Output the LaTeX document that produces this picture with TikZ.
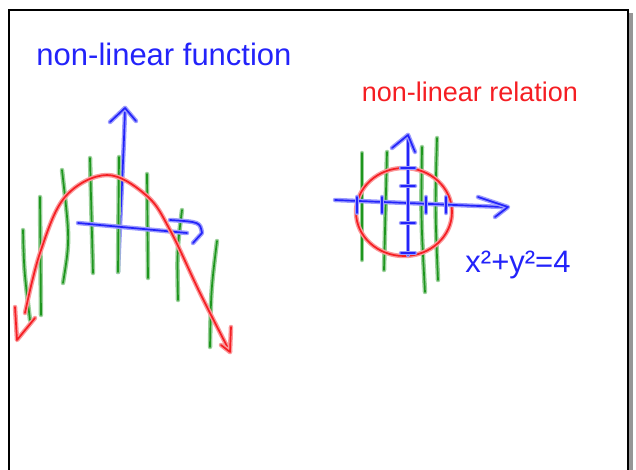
\documentclass[tikz,border=0pt]{standalone}
\usepackage{fontspec}
\setmainfont{Liberation Sans}
\definecolor{PenBlue}{RGB}{35,35,250}
\definecolor{PenRed}{RGB}{245,30,35}
\definecolor{PenGreen}{RGB}{30,150,30}
\definecolor{ShadowGray}{RGB}{150,150,150}
\tikzset{
  ink/.style={draw=#1!45, line width=4.5pt, line cap=round, line join=round, postaction={draw=#1, line width=1.7pt}},
  bluepen/.style={ink=PenBlue},
  redpen/.style={ink=PenRed},
  greenpen/.style={ink=PenGreen},
  scrawl/.style={inner sep=0pt, anchor=center}
}

\begin{document}
\begin{tikzpicture}[x=1pt, y=-1pt]
\useasboundingbox (0,0) rectangle (636,470);
% board frame
\fill[ShadowGray] (629,13) rectangle (633,470);
\draw[line width=2pt] (9,470) -- (9,10) -- (628,10) -- (628,470);
% titles
\node[scrawl, text=PenBlue, font=\fontsize{31}{36}\selectfont] (fntitle) at (164,54) {non-linear function};
\node[scrawl, text=PenRed, font=\fontsize{27}{32}\selectfont] (reltitle) at (470,92) {non-linear relation};
\node[scrawl, text=PenBlue, font=\fontsize{31}{36}\selectfont] (circeq) at (518,265) {x²+y²=4};
% parabola: vertical test lines
\draw[greenpen] (23,230) .. controls (24,270) .. (30,320);
\draw[greenpen] (40,197) -- (41,315);
\draw[greenpen] (62,170) .. controls (70,240) .. (63,283);
\draw[greenpen] (90,158) -- (93,273);
\draw[greenpen] (147,174) -- (148,278);
\draw[greenpen] (182,210) .. controls (177,250) .. (178,300);
\draw[greenpen] (217,241) .. controls (211,290) .. (210,347);
% parabola: axes
\draw[bluepen] (118,272) .. controls (120,220) and (124,150) .. (125,108);
\draw[bluepen] (110,122) -- (125,108) -- (136,121);
\draw[greenpen] (119,157) -- (118,272);
\draw[bluepen] (78,223) -- (187,233);
\draw[bluepen] (170,220) .. controls (200,222) .. (202,233) -- (193,243);
% parabola: curve
\draw[redpen] plot[smooth, tension=0.6] coordinates {(25,313) (40,253) (65,197) (107,175) (147,196) (170,230) (200,293) (230,352)};
\draw[redpen] (15,307) -- (17,340) -- (35,318);
\draw[redpen] (221,345) -- (230,352) -- (231,327);
% circle: vertical test lines
\draw[greenpen] (362,153) -- (362,260);
\draw[greenpen] (387,152) -- (384,270);
\draw[greenpen] (422,147) .. controls (421,220) .. (425,292);
\draw[greenpen] (437,138) .. controls (435,210) .. (438,280);
% circle: curve
\draw[redpen] (404,212) ellipse [x radius=48, y radius=44];
% circle: axes and ticks
\draw[bluepen] (335,200) -- (503,207);
\draw[bluepen] (478,197) -- (508,207) -- (495,217);
\draw[bluepen] (408,255) -- (408,135);
\draw[bluepen] (392,148) -- (408,135) -- (415,152);
\foreach \tx in {357,382,426,446}
  \draw[bluepen] (\tx,197) -- (\tx,213);
\foreach \ty in {168,186,223,253}
  \draw[bluepen] (401,\ty) -- (415,\ty);
\end{tikzpicture}
\end{document}
